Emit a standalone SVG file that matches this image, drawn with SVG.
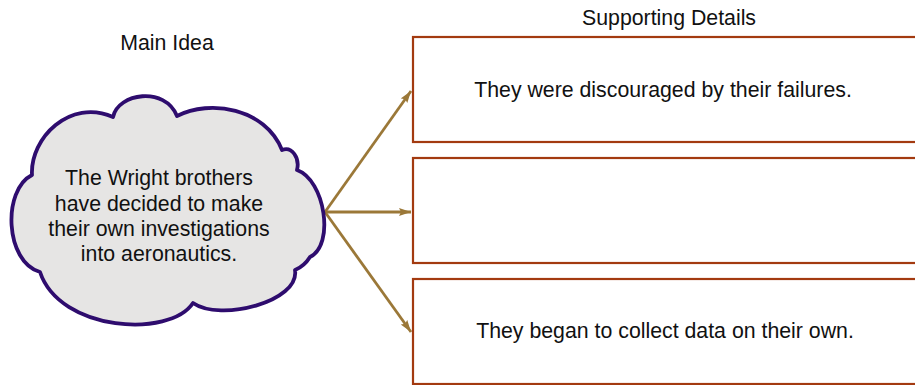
<svg xmlns="http://www.w3.org/2000/svg" width="915" height="385" viewBox="0 0 915 385">
<style>
text{font-family:"Liberation Sans",Arial,sans-serif;font-size:21.3px;fill:#111;text-anchor:middle}
.box{fill:#fff;stroke:#a33a10;stroke-width:2.2}
.conn{stroke:#9b7838;stroke-width:2.8;fill:none;marker-end:url(#ah)}
</style>
<defs>
<marker id="ah" markerUnits="userSpaceOnUse" markerWidth="14" markerHeight="10" refX="12" refY="4" orient="auto">
<path d="M0,0 L12,4 L0,8 L2,4 Z" fill="#9b7838"/>
</marker>
</defs>
<text id="title-main" x="167" y="50">Main Idea</text>
<text id="title-details" x="669" y="25">Supporting Details</text>
<g id="connectors">
<line class="conn" x1="325" y1="212" x2="411" y2="91"/>
<line class="conn" x1="325" y1="212" x2="411" y2="212"/>
<line class="conn" x1="325" y1="212" x2="411" y2="332"/>
</g>
<g id="main-idea">
<path d="M40,272 C5,262 2,190 32,175 C30,138 70,98 113,117 C118,93 165,86 177,116 C210,99 265,108 282,150 C292,146 300,158 297,170 C325,180 335,245 310,257 C305,265 300,268 295,270 C300,302 220,322 193,303 C170,338 60,332 40,272 Z" fill="#e6e5e4" stroke="#2e0c6e" stroke-width="3.8" stroke-linejoin="round"/>
<text x="159" y="185">The Wright brothers</text>
<text x="159" y="210.5">have decided to make</text>
<text x="159" y="236">their own investigations</text>
<text x="159" y="261">into aeronautics.</text>
</g>
<g id="detail-1">
<rect class="box" x="413" y="37" width="520" height="105"/>
<text x="663" y="97">They were discouraged by their failures.</text>
</g>
<g id="detail-2">
<rect class="box" x="413" y="158" width="520" height="105"/>
</g>
<g id="detail-3">
<rect class="box" x="413" y="279" width="520" height="105"/>
<text x="665" y="338">They began to collect data on their own.</text>
</g>
</svg>
